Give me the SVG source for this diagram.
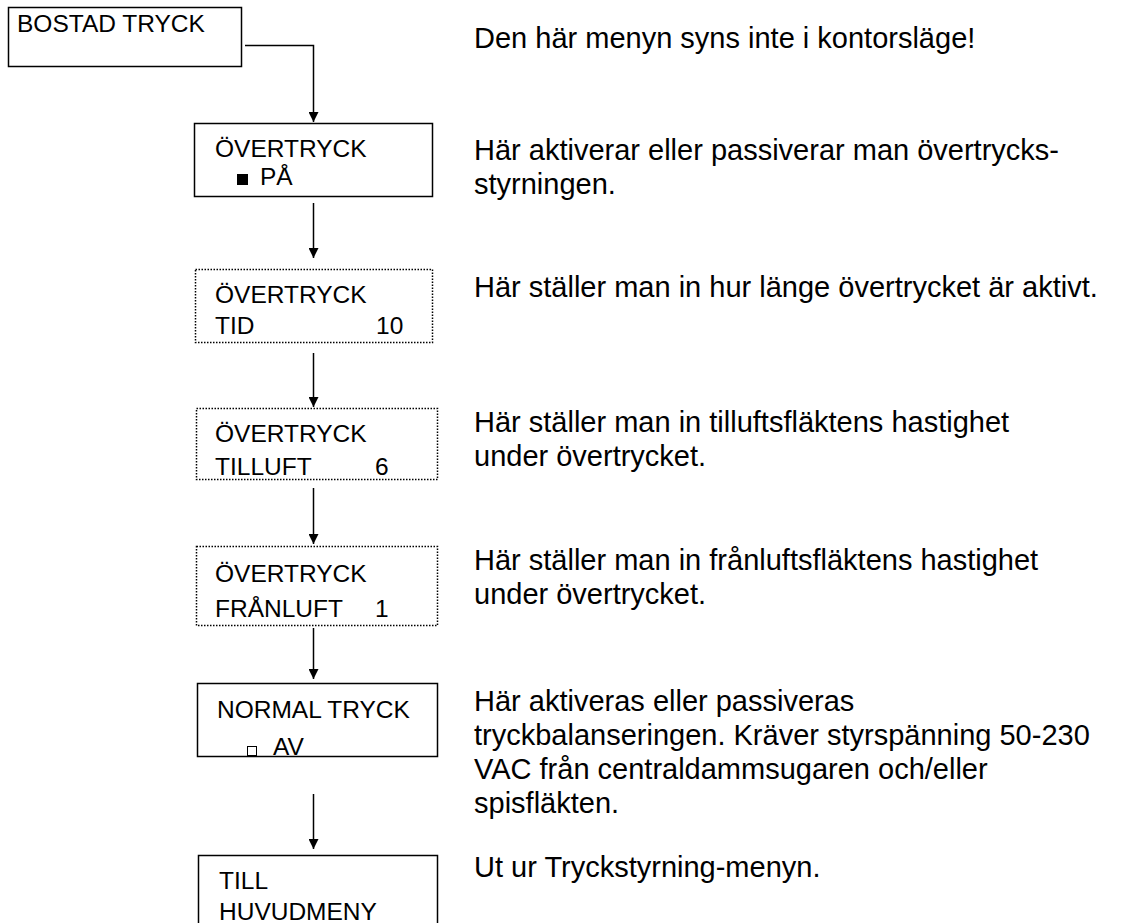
<svg xmlns="http://www.w3.org/2000/svg" width="1126" height="923" viewBox="0 0 1126 923">
<style>
.box{fill:#fff;stroke:#000;stroke-width:1.5}
.dot{fill:#fff;stroke:#000;stroke-width:1.5;stroke-dasharray:1.5 1.5}
.bt{font-family:"Liberation Sans",Arial,sans-serif;font-size:24.5px;fill:#000}
.rt{font-family:"Liberation Sans",Arial,sans-serif;font-size:29px;fill:#000}
.ln{fill:none;stroke:#000;stroke-width:1.5}
</style>
<defs>
<marker id="ah" viewBox="0 0 10 10" refX="10" refY="5" markerWidth="10" markerHeight="10" markerUnits="userSpaceOnUse" orient="auto">
<path d="M0,0 L10,5 L0,10 Z" fill="#000"/>
</marker>
</defs>
<g id="connectors">
<path class="ln" d="M245,45.5 H313.5 V122" marker-end="url(#ah)"/>
<path class="ln" d="M313.5,203 V258" marker-end="url(#ah)"/>
<path class="ln" d="M313.5,353 V407" marker-end="url(#ah)"/>
<path class="ln" d="M313.5,488 V544" marker-end="url(#ah)"/>
<path class="ln" d="M313.5,628 V679" marker-end="url(#ah)"/>
<path class="ln" d="M313.5,794 V849" marker-end="url(#ah)"/>
</g>
<g id="n1">
<rect class="box" x="8.5" y="7.5" width="233" height="59"/>
<text class="bt" x="17" y="32">BOSTAD TRYCK</text>
</g>
<g id="n2">
<rect class="box" x="194.5" y="123.5" width="238" height="73"/>
<text class="bt" x="215" y="157">ÖVERTRYCK</text>
<rect x="237" y="174" width="11" height="11" fill="#000"/>
<text class="bt" x="260" y="185">PÅ</text>
</g>
<g id="n3">
<rect class="dot" x="195.5" y="269.5" width="237" height="73"/>
<text class="bt" x="215" y="303">ÖVERTRYCK</text>
<text class="bt" x="215" y="334">TID</text>
<text class="bt" x="376" y="334">10</text>
</g>
<g id="n4">
<rect class="dot" x="196.5" y="408.5" width="241" height="71"/>
<text class="bt" x="215" y="442">ÖVERTRYCK</text>
<text class="bt" x="215" y="475">TILLUFT</text>
<text class="bt" x="375" y="475">6</text>
</g>
<g id="n5">
<rect class="dot" x="196.5" y="546.5" width="241" height="79"/>
<text class="bt" x="215" y="582">ÖVERTRYCK</text>
<text class="bt" x="215" y="617">FRÅNLUFT</text>
<text class="bt" x="375" y="617">1</text>
</g>
<g id="n6">
<rect class="box" x="197.5" y="683.5" width="240" height="73"/>
<text class="bt" x="217" y="718">NORMAL TRYCK</text>
<rect x="247.5" y="746.5" width="9" height="9" fill="#fff" stroke="#000" stroke-width="1"/>
<text class="bt" x="273" y="755">AV</text>
</g>
<g id="n7">
<rect class="box" x="198.5" y="855.5" width="239" height="80"/>
<text class="bt" x="219" y="889">TILL</text>
<text class="bt" x="219" y="920">HUVUDMENY</text>
</g>
<g id="notes">
<text class="rt" x="474" y="48">Den här menyn syns inte i kontorsläge!</text>
<text class="rt" x="474" y="160">Här aktiverar eller passiverar man övertrycks-</text>
<text class="rt" x="474" y="194">styrningen.</text>
<text class="rt" x="474" y="297">Här ställer man in hur länge övertrycket är aktivt.</text>
<text class="rt" x="474" y="432">Här ställer man in tilluftsfläktens hastighet</text>
<text class="rt" x="474" y="466">under övertrycket.</text>
<text class="rt" x="474" y="570">Här ställer man in frånluftsfläktens hastighet</text>
<text class="rt" x="474" y="604">under övertrycket.</text>
<text class="rt" x="474" y="711">Här aktiveras eller passiveras</text>
<text class="rt" x="474" y="745">tryckbalanseringen. Kräver styrspänning 50-230</text>
<text class="rt" x="474" y="779">VAC från centraldammsugaren och/eller</text>
<text class="rt" x="474" y="813">spisfläkten.</text>
<text class="rt" x="474" y="877">Ut ur Tryckstyrning-menyn.</text>
</g>
</svg>
